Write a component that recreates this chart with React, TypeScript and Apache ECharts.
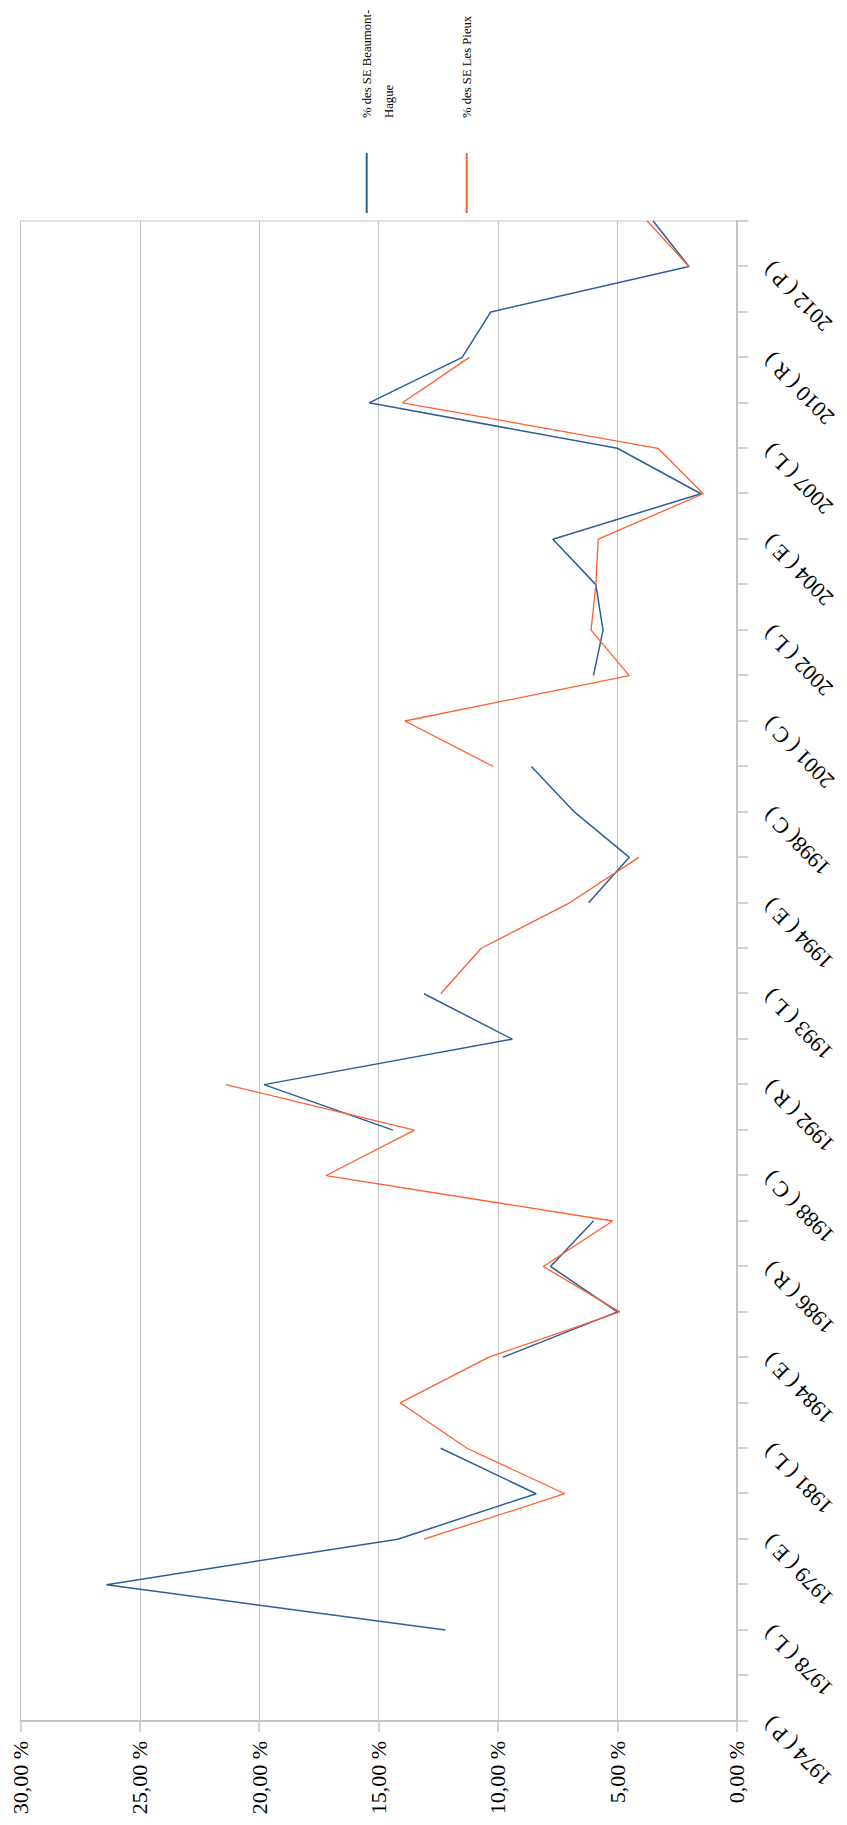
import React, { useEffect, useRef } from 'react';
import * as echarts from 'echarts';

// Categories (only every other one is labelled in the reference)
const categories: string[] = [
  '1974 ( P )', '', '1978 ( L )', '', '1979 ( E )', '', '1981 ( L )', '',
  '1984 ( E )', '', '1986 ( R )', '', '1988 ( C )', '', '1992 ( R )', '',
  '1993 ( L )', '', '1994 ( E )', '', '1998( C )', '', '2001 ( C )', '',
  '2002 ( L )', '', '2004 ( E )', '', '2007 ( L )', '', '2010 ( R )', '',
  '2012 ( P )', '',
];

// % des SE Beaumont-Hague (percent)
const beaumont: (number | null)[] = [
  null, null, 12.2, 26.4, 14.2, 8.4, 12.4, null,
  9.8, 5.0, 7.8, 6.0, null, 14.4, 19.8, 9.4,
  13.1, null, 6.2, 4.5, 6.8, 8.6, null, 6.0,
  5.6, 5.9, 7.7, 1.5, 5.0, 15.4, 11.5, 10.3,
  2.0, 3.5,
];

// % des SE Les Pieux (percent)
const lesPieux: (number | null)[] = [
  null, null, null, null, 13.1, 7.2, 11.3, 14.1,
  10.4, 4.9, 8.1, 5.2, 17.2, 13.5, 21.4, null,
  12.4, 10.7, 7.0, 4.1, null, 10.2, 13.9, 4.5,
  6.1, 5.9, 5.8, 1.4, 3.3, 14.0, 11.2, null,
  2.0, 3.75,
];

const seriesNames = ['% des SE Beaumont-Hague', '% des SE Les Pieux'];
const legendLabels = ['\n% des SE Beaumont-\nHague', '% des SE Les Pieux'];
const valueTicks = { min: 0, max: 30, interval: 5 };

const FONT = "'Liberation Serif', 'Times New Roman', serif";
const BLUE = '#2d5e9b';
const ORANGE = '#ff5f2e';
const GRID_COLOR = '#c3c3c3';

const W = 1825;
const H = 847;

export default function App() {
  const ref = useRef<HTMLDivElement>(null);

  useEffect(() => {
    if (!ref.current) return;
    const chart = echarts.init(ref.current, undefined, { renderer: 'svg' });
    chart.setOption({
      animation: false,
      backgroundColor: '#ffffff',
      grid: {
        left: 104,
        top: 20.5,
        width: 1500,
        height: 716.2,
        show: true,
        borderColor: GRID_COLOR,
        borderWidth: 1,
        backgroundColor: 'transparent',
      },
      legend: [
        {
          data: [seriesNames[0]],
          orient: 'vertical',
          left: 1612,
          top: 333.7,
          padding: 0,
          icon: 'rect',
          itemWidth: 60,
          itemHeight: 2,
          formatter: () => legendLabels[0],
          textStyle: {
            fontFamily: FONT,
            fontSize: 12.7,
            lineHeight: 22,
            color: '#000',
            padding: [0, 0, 0, 30],
          },
        },
        {
          data: [seriesNames[1]],
          orient: 'vertical',
          left: 1612,
          top: 455.7,
          padding: 0,
          icon: 'rect',
          itemWidth: 60,
          itemHeight: 2,
          formatter: () => legendLabels[1],
          textStyle: {
            fontFamily: FONT,
            fontSize: 12.7,
            lineHeight: 22,
            color: '#000',
            padding: [0, 0, 0, 30],
          },
        },
      ],
      xAxis: {
        type: 'category',
        data: categories,
        boundaryGap: false,
        axisLine: { show: true, lineStyle: { color: GRID_COLOR, width: 2 } },
        axisTick: { show: true, interval: 0, length: 11, lineStyle: { color: GRID_COLOR, width: 1.5 } },
        axisLabel: {
          interval: 1,
          rotate: 45,
          margin: 30,
          fontFamily: FONT,
          fontSize: 22,
          color: '#000',
        },
        splitLine: { show: false },
      },
      yAxis: {
        type: 'value',
        min: valueTicks.min,
        max: valueTicks.max,
        interval: valueTicks.interval,
        axisLine: { show: true, lineStyle: { color: GRID_COLOR, width: 2 } },
        axisTick: { show: true, length: 11, lineStyle: { color: GRID_COLOR, width: 1.5 } },
        axisLabel: {
          margin: 20,
          fontFamily: FONT,
          fontSize: 22,
          color: '#000',
          formatter: (v: number) => v.toFixed(2).replace('.', ',') + ' %',
        },
        splitLine: { show: true, lineStyle: { color: GRID_COLOR, width: 1 } },
      },
      series: [
        {
          name: seriesNames[0],
          type: 'line',
          data: beaumont,
          symbol: 'none',
          connectNulls: false,
          color: BLUE,
          lineStyle: { color: BLUE, width: 1.5 },
        },
        {
          name: seriesNames[1],
          type: 'line',
          data: lesPieux,
          symbol: 'none',
          connectNulls: false,
          color: ORANGE,
          lineStyle: { color: ORANGE, width: 1.3 },
        },
      ],
    });
    return () => chart.dispose();
  }, []);

  return (
    <div
      style={{
        position: 'fixed',
        left: 0,
        top: 0,
        width: 847,
        height: 1825,
        overflow: 'hidden',
        background: '#fff',
      }}
    >
      <div
        ref={ref}
        style={{
          position: 'absolute',
          left: 0,
          top: 0,
          width: W,
          height: H,
          transformOrigin: '0 0',
          transform: `translateY(${W}px) rotate(-90deg)`,
        }}
      />
    </div>
  );
}
